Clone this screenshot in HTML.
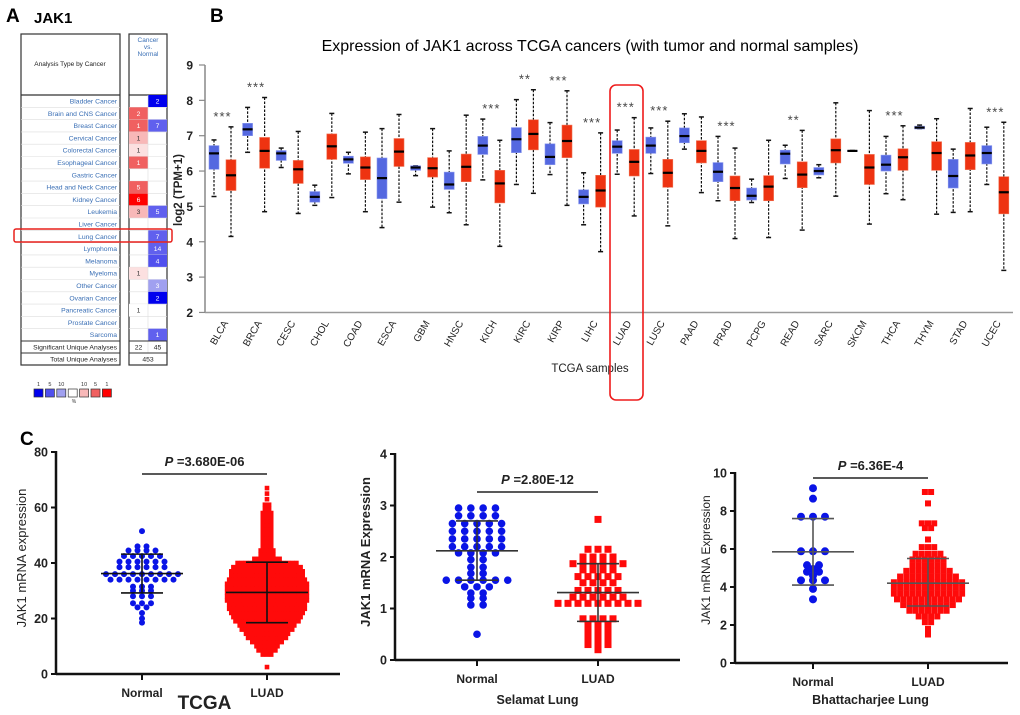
<!DOCTYPE html>
<html><head><meta charset="utf-8"><style>
body{margin:0;background:#fff;}
svg{display:block;font-family:"Liberation Sans",Arial,sans-serif;}
</style></head><body>
<svg id="fig" width="1020" height="715" viewBox="0 0 1020 715">
<text x="6" y="22" font-size="19" font-weight="bold">A</text>
<text x="34" y="23" font-size="15" font-weight="bold">JAK1</text>
<text x="210" y="22" font-size="19" font-weight="bold">B</text>
<text x="590" y="51" font-size="16" text-anchor="middle">Expression of JAK1 across TCGA cancers (with tumor and normal samples)</text>
<text x="20" y="445" font-size="19" font-weight="bold">C</text>
<g id="panelA"></g>
<g id="panelB"></g>
<g id="panelC"></g>
</svg>
<script>
// ---------- Panel A data ----------
const cancerNames=["Bladder Cancer","Brain and CNS Cancer","Breast Cancer","Cervical Cancer","Colorectal Cancer","Esophageal Cancer","Gastric Cancer","Head and Neck Cancer","Kidney Cancer","Leukemia","Liver Cancer","Lung Cancer","Lymphoma","Melanoma","Myeloma","Other Cancer","Ovarian Cancer","Pancreatic Cancer","Prostate Cancer","Sarcoma"];
const upCounts=[0,2,1,1,1,1,0,5,6,3,0,0,0,0,1,0,0,1,0,0];
const upShade=["","#f06060","#f06060","#f8b8b8","#fce0e0","#f06060","","#f06060","#ff0000","#f8b8b8","","","","","#fce0e0","","","#ffffff","",""];
const downCounts=[2,0,7,0,0,0,0,0,0,5,0,7,14,4,0,3,2,0,0,1];
const downShade=["#0000ee","","#6060ee","","","","","","","#6060ee","","#6060ee","#6060ee","#5050ee","","#a0a0f0","#0000ee","","","#6060ee"];

// ---------- Panel B data ----------
const tcgaCancers=["BLCA","BRCA","CESC","CHOL","COAD","ESCA","GBM","HNSC","KICH","KIRC","KIRP","LIHC","LUAD","LUSC","PAAD","PRAD","PCPG","READ","SARC","SKCM","THCA","THYM","STAD","UCEC"];
const normalMin=[5.28,6.53,6.1,5.03,5.92,4.4,5.87,4.82,5.75,5.62,5.9,4.48,5.91,5.93,6.62,5.16,5.11,5.79,5.81,6.57,5.36,7.2,4.83,5.62];
const normalQ1=[6.05,7.0,6.3,5.12,6.22,5.22,6.02,5.48,6.47,6.52,6.18,5.07,6.5,6.5,6.8,5.7,5.18,6.2,5.89,6.56,6.0,7.19,5.52,6.2];
const normalMed=[6.5,7.18,6.5,5.27,6.33,5.8,6.1,5.62,6.72,6.9,6.4,5.27,6.69,6.72,6.99,5.98,5.3,6.49,6.0,6.57,6.18,7.23,5.86,6.51];
const normalQ3=[6.72,7.35,6.58,5.42,6.42,6.37,6.15,5.97,6.98,7.23,6.77,5.47,6.86,6.96,7.22,6.24,5.52,6.59,6.1,6.58,6.45,7.27,6.33,6.72];
const normalMax=[6.88,7.8,6.65,5.6,6.53,7.2,6.15,6.57,7.47,8.02,7.37,5.95,7.16,7.22,7.62,6.98,5.77,6.73,6.18,6.58,6.98,7.3,6.62,7.24];
const tumorMin=[4.15,4.85,4.8,5.25,4.85,5.12,4.98,4.48,3.87,5.37,5.03,3.72,4.73,4.45,5.39,4.09,4.12,4.33,5.29,4.5,5.19,4.78,4.85,3.19];
const tumorQ1=[5.45,6.08,5.65,6.33,5.76,6.13,5.83,5.7,5.1,6.6,6.38,4.98,5.86,5.54,6.23,5.16,5.16,5.53,6.23,5.62,6.02,6.02,6.04,4.79];
const tumorMed=[5.88,6.57,6.05,6.7,6.1,6.55,6.08,6.12,5.65,7.05,6.85,5.45,6.26,5.95,6.57,5.52,5.56,5.9,6.59,6.1,6.39,6.51,6.44,5.4];
const tumorQ3=[6.32,6.95,6.3,7.05,6.4,6.92,6.38,6.48,6.02,7.45,7.3,5.88,6.61,6.33,6.86,5.86,5.87,6.26,6.91,6.47,6.63,6.83,6.81,5.84];
const tumorMax=[7.25,8.08,7.12,7.63,7.1,7.6,7.2,7.58,6.87,8.3,8.27,7.08,7.51,7.41,7.53,6.65,6.87,7.15,7.93,7.71,7.28,7.48,7.77,7.38];
const sigStars=["***","***","","","","","","","***","**","***","***","***","***","","***","","**","","","***","","","***"];
const bTicks=[2,3,4,5,6,7,8,9];

// ---------- Panel C data (beeswarm rows: value + number of points in row) ----------
const tcgaNormalRows=[51.5,46,44.5,42.5,40.5,38.5,36,34,31.5,30,28,25.5,24,22,20,18.5];
const tcgaNormalCounts=[1,2,4,5,6,6,9,8,3,3,3,3,2,1,1,1];
const tcgaLuadRows=[2.5,7,8.5,10,11.5,13,14.5,16,17.5,19,20.5,22,23.5,25,26.5,28,29.5,31,32.5,34,35.5,37,38.5,40,41.5,43,44.5,46,47.5,49,50.5,52,53.5,55,56.5,58,59.5,61,63,65,67];
const tcgaLuadCounts=[1,3,5,6,8,10,11,13,14,16,17,18,19,19,20,20,20,20,20,19,18,18,17,15,7,4,4,3,3,3,3,3,3,3,3,3,2,2,1,1,1];
const tcgaStats=[36.2,43.2,29.2,29.4,40.3,18.5];
const selNormalRows=[2.95,2.8,2.65,2.5,2.35,2.2,2.08,1.95,1.8,1.68,1.55,1.42,1.3,1.2,1.07,0.5];
const selNormalCounts=[4,4,5,5,5,5,4,2,2,2,6,3,2,2,2,1];
const selLuadRows=[2.73,2.15,2.0,1.87,1.75,1.62,1.5,1.35,1.22,1.1,0.8,0.68,0.55,0.42,0.3,0.2];
const selLuadCounts=[1,3,4,6,4,5,4,5,6,9,4,3,3,3,3,1];
const selStats=[2.12,2.7,1.55,1.31,1.87,0.75];
const bhNormalRows=[9.2,8.65,7.7,5.88,5.15,4.95,4.8,4.6,4.35,3.9,3.35];
const bhNormalCounts=[1,1,3,3,2,1,2,1,3,1,1];
const bhLuadRows=[9.0,8.4,7.35,7.1,6.5,6.1,5.75,5.45,5.15,4.85,4.55,4.25,3.95,3.65,3.35,3.05,2.75,2.45,2.15,1.8,1.5];
const bhLuadCounts=[2,1,3,2,1,3,5,6,6,8,10,12,12,12,11,9,7,4,2,1,1];
const bhStats=[5.85,7.6,4.1,4.2,5.5,3.0];

const NS="http://www.w3.org/2000/svg";
function mk(parent,tag,attrs,text){const e=document.createElementNS(NS,tag);for(const k in attrs)e.setAttribute(k,attrs[k]);if(text!==undefined)e.textContent=text;parent.appendChild(e);return e;}

// ---------- Panel A ----------
(function(){
const g=document.getElementById('panelA');
const top=95,rh=12.3;
let e=mk(g,'rect',{x:21,y:34,width:99,height:331,fill:'#fff',stroke:'#333','stroke-width':1.2});

e=mk(g,'rect',{x:129,y:34,width:38,height:331,fill:'#fff',stroke:'#333','stroke-width':1.2});

mk(g,'line',{x1:21,y1:95,x2:120,y2:95,stroke:'#333','stroke-width':1.2});
mk(g,'line',{x1:129,y1:95,x2:167,y2:95,stroke:'#333','stroke-width':1.2});
e=mk(g,'text',{x:70,y:66,'font-size':6.5,'text-anchor':'middle',fill:'#222'},'Analysis Type by Cancer');

['Cancer','vs.','Normal'].forEach((t,i)=>{const h=mk(g,'text',{x:148,y:42+i*7,'font-size':6.5,'text-anchor':'middle',fill:'#3a6fb5'},t);
});
cancerNames.forEach((n,i)=>{
 const y=top+i*rh;
 if(upShade[i]){mk(g,'rect',{x:129,y:y,width:19,height:rh,fill:upShade[i]});}
 if(downShade[i]){mk(g,'rect',{x:148,y:y,width:19,height:rh,fill:downShade[i]});}
 mk(g,'line',{x1:21,y1:y+rh,x2:120,y2:y+rh,stroke:'#ddd','stroke-width':0.6});
 mk(g,'line',{x1:129,y1:y+rh,x2:167,y2:y+rh,stroke:'#ddd','stroke-width':0.6});
 const t=mk(g,'text',{x:117,y:y+8.5,'font-size':6.8,'text-anchor':'end',fill:'#3a6fb5'},n);
 
 if(upCounts[i]){const c=mk(g,'text',{x:138.5,y:y+8.5,'font-size':6.8,'text-anchor':'middle',fill:upShade[i]==='#ff0000'||upShade[i]==='#f06060'?'#fff':'#333'},upCounts[i]);
 }
 if(downCounts[i]){const c=mk(g,'text',{x:157.5,y:y+8.5,'font-size':6.8,'text-anchor':'middle',fill:'#fff'},downCounts[i]);
 }
});
mk(g,'line',{x1:148,y1:top,x2:148,y2:353,stroke:'#ddd','stroke-width':0.6});
const yS=top+20*rh;
mk(g,'line',{x1:21,y1:yS,x2:120,y2:yS,stroke:'#333','stroke-width':1});
mk(g,'line',{x1:129,y1:yS,x2:167,y2:yS,stroke:'#333','stroke-width':1});
mk(g,'line',{x1:21,y1:yS+12,x2:120,y2:yS+12,stroke:'#333','stroke-width':1});
mk(g,'line',{x1:129,y1:yS+12,x2:167,y2:yS+12,stroke:'#333','stroke-width':1});
mk(g,'text',{x:117,y:yS+8.5,'font-size':6.8,'text-anchor':'end',fill:'#222'},'Significant Unique Analyses');
mk(g,'text',{x:138.5,y:yS+8.5,'font-size':6.8,'text-anchor':'middle',fill:'#222'},'22');
mk(g,'text',{x:157.5,y:yS+8.5,'font-size':6.8,'text-anchor':'middle',fill:'#222'},'45');
mk(g,'text',{x:117,y:yS+20.5,'font-size':6.8,'text-anchor':'end',fill:'#222'},'Total Unique Analyses');
mk(g,'text',{x:148,y:yS+20.5,'font-size':6.8,'text-anchor':'middle',fill:'#222'},'453');
const hl=mk(g,'rect',{x:14,y:229,width:158,height:13,rx:2,fill:'none',stroke:'#e8201c','stroke-width':1.5});

const legCols=['#0000ee','#5050ee','#a0a0f0','#ffffff','#f8b8b8','#f06060','#ff0000'];
const legLab=['1','5','10','','10','5','1'];
legCols.forEach((c,i)=>{const x=34+i*11.4;
 const r=mk(g,'rect',{x:x,y:389,width:9,height:8,fill:c,stroke:'#333','stroke-width':0.7});
 
 if(legLab[i])mk(g,'text',{x:x+4.5,y:386,'font-size':5.5,'text-anchor':'middle',fill:'#333'},legLab[i]);});
mk(g,'text',{x:74,y:403,'font-size':5,'text-anchor':'middle',fill:'#333'},'%');
})();

// ---------- Panel B ----------
(function(){
const g=document.getElementById('panelB');
const y=v=>65+(9-v)*35.35;
const xN=i=>214+i*33.6, xT=i=>231+i*33.6;
mk(g,'line',{x1:205,y1:y(9),x2:205,y2:y(2),stroke:'#888','stroke-width':1.5});
mk(g,'line',{x1:205,y1:y(2),x2:1013,y2:y(2),stroke:'#999','stroke-width':1.5});
bTicks.forEach(t=>{mk(g,'line',{x1:199,y1:y(t),x2:205,y2:y(t),stroke:'#888','stroke-width':1.2});
 const l=mk(g,'text',{x:193,y:y(t)+4.5,'font-size':12,'font-weight':'bold','text-anchor':'end',fill:'#222'},t);
 });
const yt=mk(g,'text',{x:0,y:0,'font-size':11.5,'font-weight':'bold','text-anchor':'middle',fill:'#222',transform:'translate(182,190) rotate(-90)'},'log2 (TPM+1)');

function box(x,mn,q1,md,q3,mx,col,name){
 const gg=mk(g,'g',{});
 
 mk(gg,'line',{x1:x,y1:y(mx),x2:x,y2:y(mn),stroke:'#111','stroke-width':1.2,'stroke-dasharray':'2.5,1.5'});
 mk(gg,'line',{x1:x-2.5,y1:y(mx),x2:x+2.5,y2:y(mx),stroke:'#111','stroke-width':1.5});
 mk(gg,'line',{x1:x-2.5,y1:y(mn),x2:x+2.5,y2:y(mn),stroke:'#111','stroke-width':1.5});
 mk(gg,'rect',{x:x-5,y:y(q3),width:10,height:Math.max(0.5,y(q1)-y(q3)),fill:col,stroke:col==='#5468e0'?'#8a98ee':'#f07050','stroke-width':0.6});
 mk(gg,'line',{x1:x-5,y1:y(md),x2:x+5,y2:y(md),stroke:'#000','stroke-width':2.2});
}
tcgaCancers.forEach((c,i)=>{
 box(xN(i),normalMin[i],normalQ1[i],normalMed[i],normalQ3[i],normalMax[i],'#5468e0','box-normal-'+c.toLowerCase());
 box(xT(i),tumorMin[i],tumorQ1[i],tumorMed[i],tumorQ3[i],tumorMax[i],'#ee3311','box-tumor-'+c.toLowerCase());
 if(sigStars[i]){const top=Math.max(normalMax[i],tumorMax[i]);
  const s=mk(g,'text',{x:(xN(i)+xT(i))/2,y:y(top)-6,'font-size':13,'text-anchor':'middle',fill:'#444','letter-spacing':'1'},sigStars[i]);
  }
 const cx=(xN(i)+xT(i))/2;
 const l=mk(g,'text',{x:0,y:0,'font-size':10,'text-anchor':'end',fill:'#222',transform:`translate(${cx+6},${323}) rotate(-60)`},c);
 
});
const xt=mk(g,'text',{x:590,y:372,'font-size':11.5,'text-anchor':'middle',fill:'#222'},'TCGA samples');

const r=mk(g,'rect',{x:610,y:85,width:33,height:315,rx:6,fill:'none',stroke:'#ee1c1c','stroke-width':1.6});

})();

// ---------- Panel C ----------
function scatter(cfg){
 const g=mk(document.getElementById('panelC'),'g',{});
 
 const y=v=>cfg.y0-(v-cfg.vmin)/(cfg.vmax-cfg.vmin)*(cfg.y0-cfg.y1);
 mk(g,'line',{x1:cfg.ax,y1:cfg.y1-1,x2:cfg.ax,y2:cfg.y0,stroke:'#111','stroke-width':2.5});
 mk(g,'line',{x1:cfg.ax,y1:cfg.y0,x2:cfg.axEnd,y2:cfg.y0,stroke:'#111','stroke-width':2.5});
 cfg.ticks.forEach(t=>{mk(g,'line',{x1:cfg.ax-5,y1:y(t),x2:cfg.ax,y2:y(t),stroke:'#111','stroke-width':2});
  const l=mk(g,'text',{x:cfg.ax-8,y:y(t)+4.5,'font-size':12.5,'font-weight':'bold','text-anchor':'end',fill:'#222'},t);
  });
 [[cfg.xN,'Normal'],[cfg.xL,'LUAD']].forEach(([x,t])=>{mk(g,'line',{x1:x,y1:cfg.y0,x2:x,y2:cfg.y0+6,stroke:'#111','stroke-width':2});
  const l=mk(g,'text',{x:x,y:cfg.y0+23,'font-size':12,'font-weight':'bold','text-anchor':'middle',fill:'#222'},t);
  });
 const yt=mk(g,'text',{x:0,y:0,'font-size':cfg.ytSize,'font-weight':cfg.ytW,'text-anchor':'middle',fill:'#222',transform:`translate(${cfg.ytx},${cfg.yty}) rotate(-90)`},cfg.ytitle);
 
 const xt=mk(g,'text',{x:(cfg.xN+cfg.xL)/2,y:cfg.xty,'font-size':cfg.xtSize,'font-weight':'bold','text-anchor':'middle',fill:'#222'},cfg.xtitle);
 
 mk(g,'line',{x1:cfg.xN,y1:cfg.py,x2:cfg.xL,y2:cfg.py,stroke:'#222','stroke-width':1.5});
 const pt=mk(g,'text',{x:(cfg.xN+cfg.xL)/2,y:cfg.py-8,'font-size':13,'font-weight':'bold','text-anchor':'middle',fill:'#222'});
 
 mk(pt,'tspan',{'font-style':'italic'},'P');mk(pt,'tspan',{},' ='+cfg.p);
 cfg.nRows.forEach((v,i)=>{const n=cfg.nCounts[i];for(let j=0;j<n;j++){
  const c=mk(g,'circle',{cx:cfg.xN+(j-(n-1)/2)*cfg.nSp,cy:y(v),r:cfg.nR,fill:'#0a14e6'});
  }});
 cfg.lRows.forEach((v,i)=>{const n=cfg.lCounts[i];for(let j=0;j<n;j++){
  const s=cfg.lS;const c=mk(g,'rect',{x:cfg.xL+(j-(n-1)/2)*cfg.lSp-s/2,y:y(v)-s/2,width:s,height:s,fill:'#ff0a0a'});
  }});
 const st=cfg.stats;
 [[cfg.xN,st[0],st[1],st[2]],[cfg.xL,st[3],st[4],st[5]]].forEach(([x,m,hi,lo])=>{
  const e=mk(g,'g',{stroke:cfg.ebCol,'stroke-width':1.6});
  
  mk(e,'line',{x1:x-41,y1:y(m),x2:x+41,y2:y(m)});
  mk(e,'line',{x1:x,y1:y(hi),x2:x,y2:y(lo)});
  mk(e,'line',{x1:x-21,y1:y(hi),x2:x+21,y2:y(hi)});
  mk(e,'line',{x1:x-21,y1:y(lo),x2:x+21,y2:y(lo)});});
}
scatter({name:'tcga-scatter',y0:674,y1:452,vmin:0,vmax:80,ax:56,axEnd:340,ticks:[0,20,40,60,80],xN:142,xL:267,
 ytitle:'JAK1 mRNA expression',ytx:26,yty:558,ytSize:13,ytW:'normal',xtitle:'TCGA',xty:709,xtSize:19,py:474,p:'3.680E-06',
 nRows:tcgaNormalRows,nCounts:tcgaNormalCounts,nSp:9,nR:3,lRows:tcgaLuadRows,lCounts:tcgaLuadCounts,lSp:4.2,lS:4.6,stats:tcgaStats,ebCol:'#111'});
scatter({name:'selamat-scatter',y0:660,y1:454,vmin:0,vmax:4,ax:395,axEnd:680,ticks:[0,1,2,3,4],xN:477,xL:598,
 ytitle:'JAK1 mRNA Expression',ytx:370,yty:552,ytSize:13,ytW:'bold',xtitle:'Selamat Lung',xty:704,xtSize:12.5,py:492,p:'2.80E-12',
 nRows:selNormalRows,nCounts:selNormalCounts,nSp:12.3,nR:3.8,lRows:selLuadRows,lCounts:selLuadCounts,lSp:10,lS:7,stats:selStats,ebCol:'#333'});
scatter({name:'bhattacharjee-scatter',y0:663,y1:473,vmin:0,vmax:10,ax:735,axEnd:1008,ticks:[0,2,4,6,8,10],xN:813,xL:928,
 ytitle:'JAK1 mRNA Expression',ytx:710,yty:560,ytSize:12,ytW:'normal',xtitle:'Bhattacharjee Lung',xty:704,xtSize:12.5,py:478,p:'6.36E-4',
 nRows:bhNormalRows,nCounts:bhNormalCounts,nSp:12,nR:4,lRows:bhLuadRows,lCounts:bhLuadCounts,lSp:6.2,lS:6,stats:bhStats,ebCol:'#555'});
</script>
</body></html>
